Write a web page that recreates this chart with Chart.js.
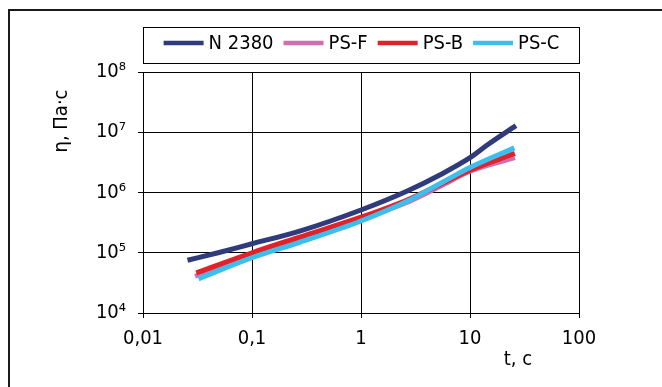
<!DOCTYPE html>
<html>
<head>
<meta charset="utf-8">
<script src="https://cdn.jsdelivr.net/npm/chart.js@4.4.0/dist/chart.umd.min.js"></script>
<style>
  html, body { margin: 0; padding: 0; background: #fff; }
  #wrap { width: 662px; height: 387px; }
</style>
</head>
<body>
<div id="wrap"><canvas id="etaChart" width="662" height="387"></canvas></div>
<script>
// series: time (s) and viscosity (Pa·s)
const seriesNames = ['N 2380', 'PS-F', 'PS-B', 'PS-C'];
const seriesColors = ['#2f3b7a', '#d46db0', '#e02229', '#3dbfee'];

const tN   = [0.0256, 0.051, 0.1, 0.274, 1, 2.69, 5.45, 10, 14.6, 26.4];
const etaN = [7.5e4, 1.02e5, 1.41e5, 2.29e5, 5.13e5, 1.07e6, 2.01e6, 3.78e6, 6.27e6, 1.29e7];

const tF   = [0.030, 0.1, 0.274, 1, 2.8, 5.45, 10, 25.8];
const etaF = [4.07e4, 9.0e4, 1.64e5, 3.63e5, 7.2e5, 1.3e6, 2.25e6, 3.78e6];

const tB   = [0.0308, 0.1, 0.274, 1, 2.69, 5.45, 10, 25.8];
const etaB = [4.64e4, 1.0e5, 1.82e5, 3.89e5, 7.6e5, 1.39e6, 2.35e6, 4.46e6];

const tC   = [0.0323, 0.1, 0.274, 1, 2.8, 5.45, 10, 25.5];
const etaC = [3.69e4, 8.26e4, 1.49e5, 3.36e5, 7.5e5, 1.44e6, 2.6e6, 5.5e6];

const xTicks = [0.01, 0.1, 1, 10, 100];
const xTickLabels = ['0,01', '0,1', '1', '10', '100'];
const yTicks = [1e4, 1e5, 1e6, 1e7, 1e8];

const FONT = '"DejaVu Sans Condensed", "Liberation Sans", Arial, sans-serif';
const sup = { 4: '\u2074', 5: '\u2075', 6: '\u2076', 7: '\u2077', 8: '\u2078' };

function pts(t, v) { return t.map((x, i) => ({ x: x, y: v[i] })); }

const allT = [tN, tF, tB, tC];
const allEta = [etaN, etaF, etaB, etaC];
const drawOrder = [3, 2, 1, 0];

const datasets = seriesNames.map((name, i) => ({
  label: name,
  data: pts(allT[i], allEta[i]),
  borderColor: seriesColors[i],
  backgroundColor: seriesColors[i],
  borderWidth: 5,
  pointRadius: 0,
  fill: false,
  cubicInterpolationMode: 'monotone',
  order: drawOrder[i]
}));

// white page, outer frame, boxed legend and axis titles
const decor = {
  id: 'decor',
  beforeDraw(chart) {
    const c = chart.ctx;
    c.save();
    c.fillStyle = '#fff';
    c.fillRect(0, 0, chart.width, chart.height);
    c.restore();
  },
  afterDraw(chart) {
    const c = chart.ctx;
    const a = chart.chartArea;
    c.save();
    // frame
    c.strokeStyle = '#1a1a1a';
    c.lineWidth = 2;
    c.beginPath();
    c.moveTo(9, chart.height);
    c.lineTo(9, 10);
    c.lineTo(chart.width, 10);
    c.stroke();

    // legend box
    const bx = Math.round(a.left) + 0.5, by = 27.5, bw = Math.round(a.right - a.left), bh = 36;
    c.lineWidth = 1;
    c.strokeStyle = '#000';
    c.strokeRect(bx, by, bw, bh);
    c.font = '20px ' + FONT;
    c.textBaseline = 'middle';
    c.fillStyle = '#000';
    const lineLen = 40, gapTxt = 5, gapItem = 10;
    const widths = chart.data.datasets.map(d => c.measureText(d.label).width);
    const total = widths.reduce((s, w) => s + w + lineLen + gapTxt, 0) + gapItem * (widths.length - 1);
    let x = bx + (bw - total) / 2;
    const ly = 43;
    chart.data.datasets.forEach((d, i) => {
      c.strokeStyle = d.borderColor;
      c.lineWidth = 4.5;
      c.beginPath();
      c.moveTo(x, ly);
      c.lineTo(x + lineLen, ly);
      c.stroke();
      x += lineLen + gapTxt;
      c.fillText(d.label, x, ly + 1);
      x += widths[i] + gapItem;
    });

    // axis titles
    c.textAlign = 'center';
    c.fillText('t, c', 518, 360);
    c.translate(62, 121);
    c.rotate(-Math.PI / 2);
    c.fillText('\u03b7, \u041f\u0430\u00b7\u0441', 0, 0);
    c.restore();
  }
};

new Chart(document.getElementById('etaChart').getContext('2d'), {
  type: 'line',
  data: { datasets: datasets },
  options: {
    responsive: false,
    animation: false,
    layout: { padding: { left: 83, right: 83, top: 72, bottom: 34 } },
    plugins: { legend: { display: false }, tooltip: { enabled: false } },
    scales: {
      x: {
        type: 'logarithmic',
        min: 0.01,
        max: 100,
        afterBuildTicks: s => { s.ticks = xTicks.map(v => ({ value: v })); },
        afterFit: s => { s.height = 40; },
        grid: { color: '#000', tickColor: '#000', tickLength: 5, lineWidth: 1 },
        border: { color: '#000', width: 1 },
        ticks: {
          autoSkip: false,
          maxRotation: 0,
          padding: 9,
          color: '#000',
          font: { family: FONT, size: 20 },
          callback: v => xTickLabels[xTicks.indexOf(v)]
        }
      },
      y: {
        type: 'logarithmic',
        min: 1e4,
        max: 1e8,
        afterBuildTicks: s => { s.ticks = yTicks.map(v => ({ value: v })); },
        afterFit: s => { s.width = 60; },
        grid: { color: '#000', tickColor: '#000', tickLength: 5, lineWidth: 1 },
        border: { color: '#000', width: 1 },
        ticks: {
          autoSkip: false,
          padding: 12,
          color: '#000',
          font: { family: FONT, size: 20 },
          callback: v => '10' + sup[Math.round(Math.log10(v))]
        }
      }
    }
  },
  plugins: [decor]
});
</script>
</body>
</html>
